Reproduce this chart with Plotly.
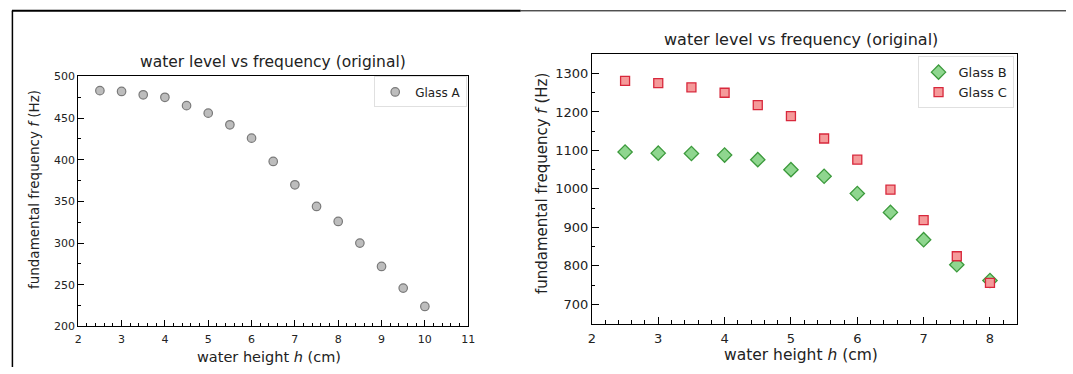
import plotly.graph_objects as go

W, H = 1073, 374

# ---- data ----
h_A = [2.5, 3.0, 3.5, 4.0, 4.5, 5.0, 5.5, 6.0, 6.5, 7.0, 7.5, 8.0, 8.5, 9.0, 9.5, 10.0]
f_A = [483, 482, 478, 475, 465, 456, 442, 426, 398, 370, 344, 326, 300, 272, 246, 224]

h_BC = [2.5, 3.0, 3.5, 4.0, 4.5, 5.0, 5.5, 6.0, 6.5, 7.0, 7.5, 8.0]
f_B = [1096, 1093, 1092, 1088, 1076, 1050, 1033, 988, 939, 868, 803, 762]
f_C = [1281, 1275, 1264, 1250, 1218, 1189, 1131, 1076, 998, 919, 825, 756]

title_text = "water level vs frequency (original)"
xlab = "water height <i>h</i> (cm)"
ylab = "fundamental frequency <i>f</i> (Hz)"

FONT = "DejaVu Sans"


def px(x):
    return x / W


def py(y):
    return 1 - y / H


fig = go.Figure()

fig.add_trace(go.Scatter(
    x=h_A, y=f_A, mode="markers", name="Glass A",
    marker=dict(symbol="circle", size=8.5, color="#bdbdbd",
                line=dict(color="#7a7a7a", width=1.2)),
    xaxis="x", yaxis="y", legend="legend",
))
fig.add_trace(go.Scatter(
    x=h_BC, y=f_B, mode="markers", name="Glass B",
    marker=dict(symbol="diamond", size=11, color="#8fd68f",
                line=dict(color="#3c9a3c", width=1.3)),
    xaxis="x2", yaxis="y2", legend="legend2",
))
fig.add_trace(go.Scatter(
    x=h_BC, y=f_C, mode="markers", name="Glass C",
    marker=dict(symbol="square", size=9, color="#f59a9a",
                line=dict(color="#d8283c", width=1.3)),
    xaxis="x2", yaxis="y2", legend="legend2",
))

axis_common = dict(
    showgrid=False, zeroline=False, showline=True, linecolor="black",
    linewidth=1, mirror=True, ticks="inside", tickcolor="black",
    color="#222",
)

fig.update_layout(
    width=W, height=H,
    margin=dict(l=0, r=0, t=0, b=0),
    paper_bgcolor="white", plot_bgcolor="white",
    font=dict(family=FONT, color="#222"),
    showlegend=True,
    xaxis=dict(axis_common, domain=[px(75), px(469)], range=[2, 11],
               tick0=2, dtick=1, ticklen=6, ticklabelstandoff=2,
               minor=dict(dtick=0.2, ticks="inside", ticklen=3, tickcolor="black"),
               tickfont=dict(size=11), anchor="y"),
    yaxis=dict(axis_common, domain=[py(332), py(73)], range=[200, 500],
               tick0=200, dtick=50, ticklen=6,
               minor=dict(dtick=25, ticks="inside", ticklen=3, tickcolor="black"),
               tickfont=dict(size=11), anchor="x"),
    xaxis2=dict(axis_common, domain=[px(594), px(1023)], range=[2, 8.4],
                tick0=2, dtick=1, ticklen=7, ticklabelstandoff=3,
                minor=dict(dtick=0.2, ticks="inside", ticklen=3.5, tickcolor="black"),
                tickfont=dict(size=13), anchor="y2"),
    yaxis2=dict(axis_common, domain=[py(329), py(50)], range=[650, 1350],
                tick0=700, dtick=100, ticklen=7,
                minor=dict(tick0=650, dtick=50, ticks="inside", ticklen=3.5, tickcolor="black"),
                tickfont=dict(size=13), anchor="x2"),
    legend=dict(x=px(468), y=py(73), xanchor="right", yanchor="top",
                bgcolor="rgba(255,255,255,0.9)", bordercolor="#e0e0e0", borderwidth=1,
                font=dict(size=12, family=FONT), itemwidth=30,
                tracegroupgap=0),
    legend2=dict(x=px(1020), y=py(52), xanchor="right", yanchor="top",
                 bgcolor="rgba(255,255,255,0.9)", bordercolor="#e0e0e0", borderwidth=1,
                 font=dict(size=13, family=FONT), itemwidth=30,
                 tracegroupgap=0),
)

annotations = [
    dict(text=title_text, x=px(272), y=py(58), font=dict(size=15.5)),
    dict(text=title_text, x=px(805), y=py(35), font=dict(size=16)),
    dict(text=xlab, x=px(268), y=py(364), font=dict(size=14.5)),
    dict(text=xlab, x=px(805), y=py(362), font=dict(size=15.5)),
    dict(text=ylab, x=px(31), y=py(190), font=dict(size=13.5), textangle=-90),
    dict(text=ylab, x=px(543), y=py(184), font=dict(size=15), textangle=-90),
]
for a in annotations:
    a.update(xref="paper", yref="paper", showarrow=False,
             xanchor="center", yanchor="middle")
    a["font"].update(family=FONT, color="#222")
fig.update_layout(annotations=annotations)

# screenshot-like frame lines
fig.update_layout(shapes=[
    dict(type="line", xref="paper", yref="paper", x0=px(8), x1=px(522), y0=py(5), y1=py(5),
         line=dict(color="black", width=2)),
    dict(type="line", xref="paper", yref="paper", x0=px(522), x1=1, y0=py(5), y1=py(5),
         line=dict(color="black", width=1)),
    dict(type="line", xref="paper", yref="paper", x0=px(8.5), x1=px(8.5), y0=py(5), y1=0,
         line=dict(color="black", width=1.5)),
])

fig.write_html("out.html")
